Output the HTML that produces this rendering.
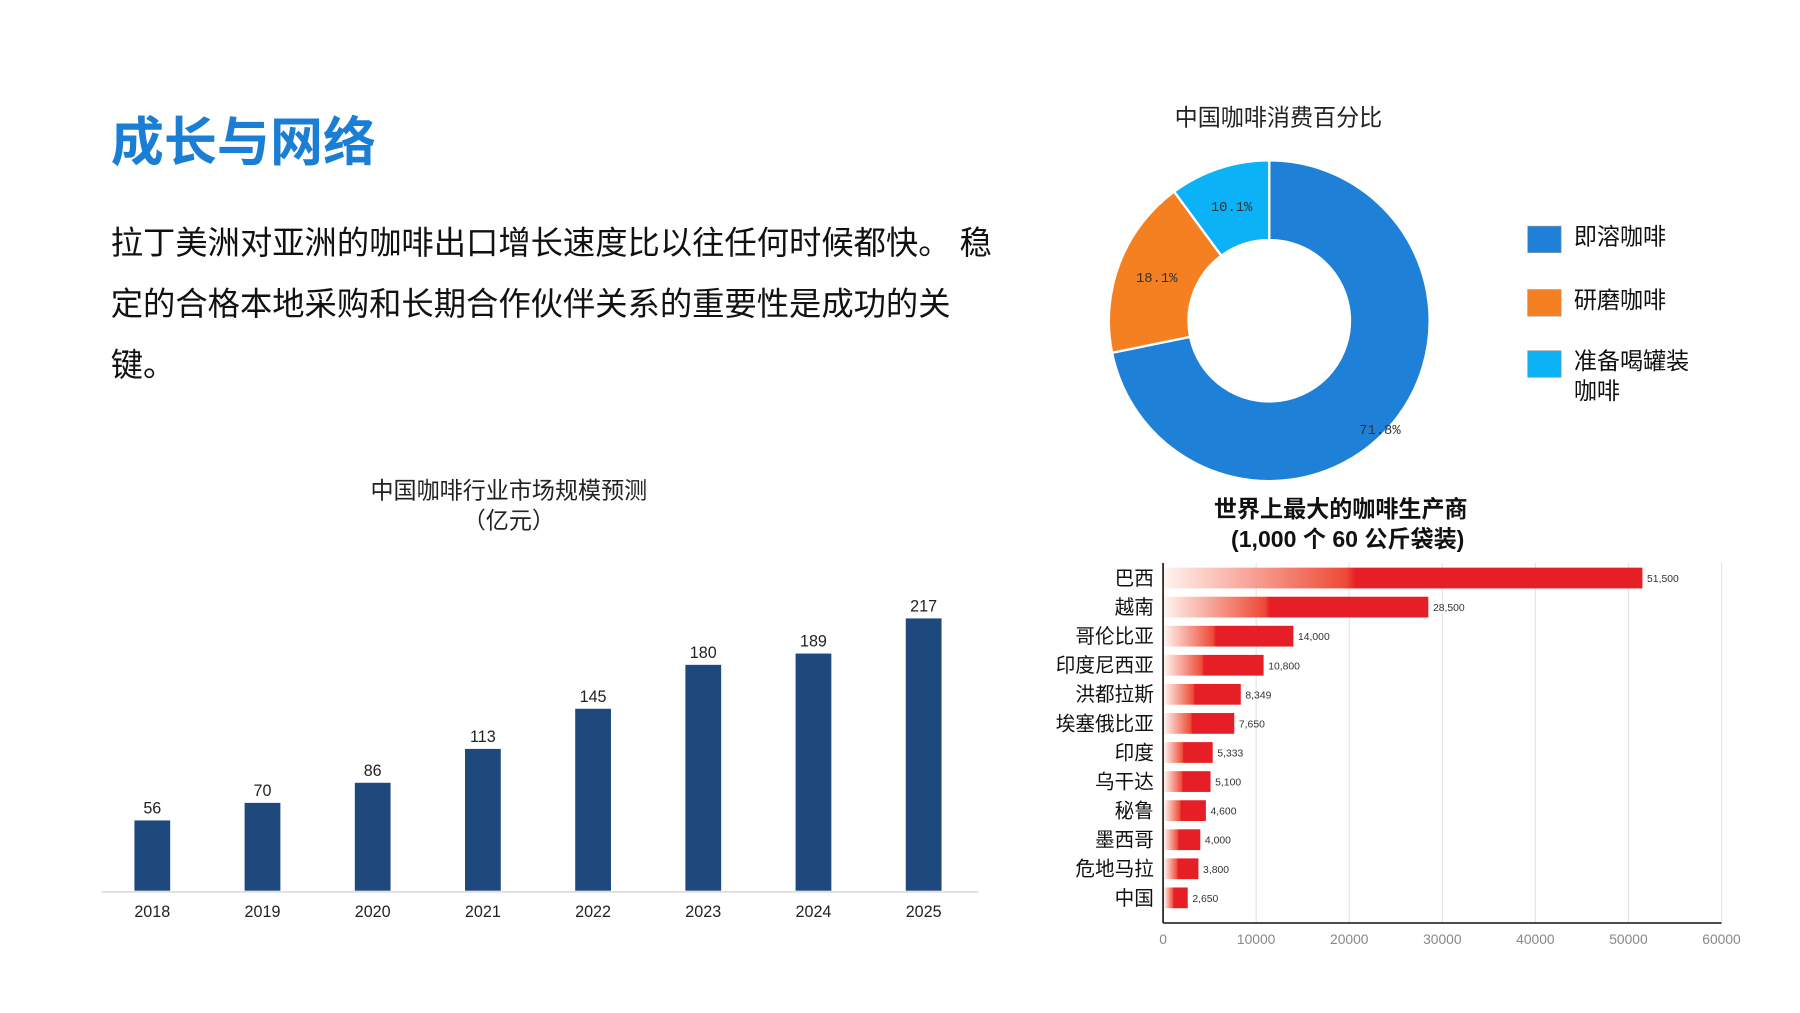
<!DOCTYPE html>
<html><head><meta charset="utf-8">
<style>
html,body{margin:0;padding:0;background:#fff;}
svg{display:block;font-family:"Liberation Sans","Noto Sans CJK SC",sans-serif;}
</style></head>
<body>
<svg id="s" width="1800" height="1013" viewBox="0 0 1560 878" preserveAspectRatio="none">
<defs>
<linearGradient id="hg" x1="0" y1="0" x2="1" y2="0">
<stop offset="0" stop-color="#fff3ee"/>
<stop offset="0.38" stop-color="#ee4a36"/>
<stop offset="0.40" stop-color="#e61f27"/>
<stop offset="1" stop-color="#e61f27"/>
</linearGradient>
</defs>
<text x="96" y="139" font-size="46" font-weight="bold" fill="#1a7fd4">成长与网络</text>
<g font-size="28" fill="#111">
<text x="96" y="220">拉丁美洲对亚洲的咖啡出口增长速度比以往任何时候都快。 稳</text>
<text x="96" y="273">定的合格本地采购和长期合作伙伴关系的重要性是成功的关</text>
<text x="96" y="326">键。</text>
</g>
<g id="donut">
<text x="1108" y="109" font-size="20" text-anchor="middle" fill="#222">中国咖啡消费百分比</text>
</g>
<g id="bars">
<text x="441" y="432" font-size="20" text-anchor="middle" fill="#222">中国咖啡行业市场规模预测</text>
<text x="441" y="458" font-size="20" text-anchor="middle" fill="#222">（亿元）</text>
</g>
<g id="hbars">
<text x="1162" y="448" font-size="20" font-weight="bold" text-anchor="middle" fill="#111">世界上最大的咖啡生产商</text>
<text x="1168" y="474" font-size="20" font-weight="bold" text-anchor="middle" fill="#111">(1,000 个 60 公斤袋装)</text>
</g>
</svg>
<script>
const NS='http://www.w3.org/2000/svg';
const donutLabels=['即溶咖啡','研磨咖啡','准备喝罐装咖啡'];
const donutValues=[71.8,18.1,10.1];
const donutText=['71.8%','18.1%','10.1%'];
const years=['2018','2019','2020','2021','2022','2023','2024','2025'];
const sizes=[56,70,86,113,145,180,189,217];
const countries=['巴西','越南','哥伦比亚','印度尼西亚','洪都拉斯','埃塞俄比亚','印度','乌干达','秘鲁','墨西哥','危地马拉','中国'];
const output=[51500,28500,14000,10800,8349,7650,5333,5100,4600,4000,3800,2650];
const outputText=['51,500','28,500','14,000','10,800','8,349','7,650','5,333','5,100','4,600','4,000','3,800','2,650'];
const xTicks=[0,10000,20000,30000,40000,50000,60000];

function mk(tag,attrs,parent,txt){const e=document.createElementNS(NS,tag);for(const k in attrs)e.setAttribute(k,attrs[k]);if(txt!==undefined)e.textContent=txt;parent.appendChild(e);return e;}

// donut
(function(){
const g=document.getElementById('donut');
const cx=1100,cy=278,R=139,r=70;
const colors=['#1f80d8','#f58022','#0cb2f6'];
let total=donutValues.reduce((a,b)=>a+b,0);
let a0=-Math.PI/2;
donutValues.forEach((v,i)=>{
 const a1=a0+v/total*2*Math.PI;
 const large=(a1-a0)>Math.PI?1:0;
 const p=(a,rad)=>[cx+rad*Math.cos(a),cy+rad*Math.sin(a)];
 const [x0,y0]=p(a0,R),[x1,y1]=p(a1,R),[x2,y2]=p(a1,r),[x3,y3]=p(a0,r);
 const e=mk('path',{d:`M${x0},${y0}A${R},${R} 0 ${large} 1 ${x1},${y1}L${x2},${y2}A${r},${r} 0 ${large} 0 ${x3},${y3}Z`,fill:colors[i],stroke:'#fff','stroke-width':2},g);
 
 
 const am=(a0+a1)/2;let lr=(R+r)/2;
 const [lx,ly]=p(am,lr);
 let ox=lx,oy=ly;
 if(i===0){ox=lx+15;oy=ly+28;}
 const t=mk('text',{x:ox,y:oy+4,'font-size':12,'text-anchor':'middle',fill:'#333','font-family':'Liberation Mono, monospace'},g,donutText[i]);
 
 
 a0=a1;
});
const ly=[196,251,304];
donutLabels.forEach((l,i)=>{
 const sq=mk('rect',{x:1324,y:ly[i],width:29,height:23,fill:colors[i],stroke:'#999','stroke-width':0.6},g);
 
 
 const t=mk('text',{x:1364,y:ly[i]+16,'font-size':20,fill:'#111'},g);
 
 
 if(l.length>5){mk('tspan',{x:1364},t,l.slice(0,5));mk('tspan',{x:1364,dy:26},t,l.slice(5));}else t.textContent=l;
});
})();

// vertical bars
(function(){
const g=document.getElementById('bars');
const base=772,left=85,step=95.5,first=132,scale=236/217,w=31;
const ax=mk('line',{x1:88,x2:848,y1:base+1,y2:base+1,stroke:'#ddd','stroke-width':1.5},g);


years.forEach((y,i)=>{
 const cx=first+i*step,h=sizes[i]*scale;
 const b=mk('rect',{x:cx-w/2,y:base-h,width:w,height:h,fill:'#1f497d'},g);
 
 
 const v=mk('text',{x:cx,y:base-h-6,'font-size':14,'text-anchor':'middle',fill:'#222'},g,String(sizes[i]));
 
 
 const t=mk('text',{x:cx,y:base+23,'font-size':14,'text-anchor':'middle',fill:'#222'},g,y);
 
 
});
})();

// horizontal bars
(function(){
const g=document.getElementById('hbars');
const x0=1008,x1=1492,maxV=60000,top=488,bottom=800;
const sx=v=>x0+(x1-x0)*v/maxV;
xTicks.forEach(t=>{
 if(t>0){const l=mk('line',{x1:sx(t),x2:sx(t),y1:top,y2:bottom,stroke:'#e4e4e4','stroke-width':1},g);
 }
 const tx=mk('text',{x:sx(t),y:818,'font-size':12,'text-anchor':'middle',fill:'#888'},g,String(t));
 
 
});
const yl=mk('line',{x1:x0,x2:x0,y1:top,y2:bottom,stroke:'#222','stroke-width':1.5},g);

const xl=mk('line',{x1:x0,x2:x1,y1:bottom,y2:bottom,stroke:'#333','stroke-width':1.5},g);

const rowStep=25.2,firstY=501,bh=18;
countries.forEach((c,i)=>{
 const cy=firstY+i*rowStep;
 const b=mk('rect',{x:x0+1,y:cy-bh/2,width:sx(output[i])-x0-1,height:bh,fill:'url(#hg)'},g);
 
 
 const v=mk('text',{x:sx(output[i])+4,y:cy+3.5,'font-size':9,fill:'#333'},g,outputText[i]);
 
 
 const t=mk('text',{x:1000,y:cy+6,'font-size':17,'text-anchor':'end',fill:'#111'},g,c);
 
 
});
})();
</script>
</body></html>
